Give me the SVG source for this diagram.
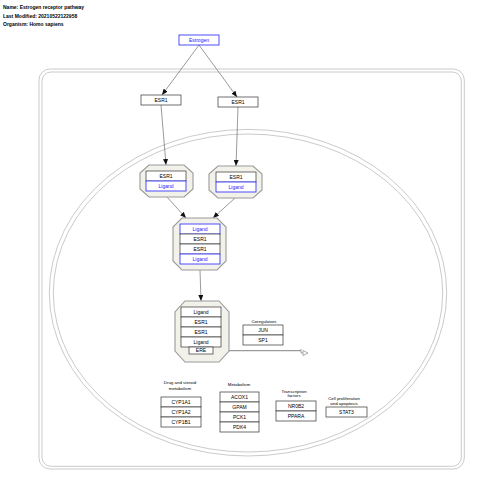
<svg xmlns="http://www.w3.org/2000/svg" width="480" height="485" viewBox="0 0 480 485">
<style>
text{font-family:"Liberation Sans",Arial,sans-serif;fill:#000;}
.hdr{font-size:5px;font-weight:bold;}
.lbl{font-size:4.4px;text-anchor:middle;}
.bt{font-size:5px;text-anchor:middle;}
.bl{fill:#1a1aff;}
.box{fill:#fff;stroke:#333;stroke-width:0.7;}
.bbox{fill:#fff;stroke:#3a3aff;stroke-width:0.9;}
.cx{fill:#f3f2ea;stroke:#9a9a9a;stroke-width:1.1;}
.shell{fill:none;stroke:#bdbdbd;stroke-width:0.8;}
.edge{stroke:#555;stroke-width:0.6;fill:none;}
</style>
<defs>
<marker id="arr" markerUnits="userSpaceOnUse" markerWidth="6" markerHeight="5" refX="6" refY="2.5" orient="auto">
<path d="M0,0 L6,2.5 L0,5 z" fill="#111"/>
</marker>
</defs>
<rect width="480" height="485" fill="#fff"/>
<g id="header">
<text class="hdr" x="3" y="8.5">Name: Estrogen receptor pathway</text>
<text class="hdr" x="3" y="17.5">Last Modified: 20210522122958</text>
<text class="hdr" x="3" y="26">Organism: Homo sapiens</text>
</g>
<g id="cell">
<rect class="shell" x="39" y="69" width="425.3" height="400" rx="11"/>
<rect class="shell" x="42" y="72" width="419.3" height="394.3" rx="9"/>
</g>
<g id="nucleus">
<ellipse class="shell" cx="248" cy="292.7" rx="198.7" ry="163.3"/>
<ellipse class="shell" cx="248" cy="293" rx="194.7" ry="159"/>
</g>
<g id="connectors">
<line class="edge" x1="199" y1="45" x2="162" y2="95" marker-end="url(#arr)"/>
<line class="edge" x1="199" y1="45" x2="237" y2="97" marker-end="url(#arr)"/>
<line class="edge" x1="161" y1="105" x2="166" y2="165" marker-end="url(#arr)"/>
<line class="edge" x1="238" y1="107" x2="236" y2="166" marker-end="url(#arr)"/>
<line class="edge" x1="167" y1="197" x2="186" y2="218" marker-end="url(#arr)"/>
<line class="edge" x1="235" y1="198" x2="213" y2="218" marker-end="url(#arr)"/>
<line class="edge" x1="200" y1="270" x2="201" y2="301" marker-end="url(#arr)"/>
<g id="ere-transcription">
<line x1="213" y1="350.6" x2="301" y2="350.6" stroke="#9a9a9a" stroke-width="1.2"/>
<path d="M301,349 V353 H303" fill="none" stroke="#777" stroke-width="0.6"/>
<polygon points="303,350.5 308,353 303,355.5" fill="#fff" stroke="#777" stroke-width="0.6"/>
</g>
</g>
<g id="estrogen">
<rect class="bbox" x="179" y="35" width="40" height="10"/>
<text class="bt bl" x="199" y="41.8">Estrogen</text>
</g>
<g id="esr1-left">
<rect class="box" x="141" y="95" width="40" height="10"/>
<text class="bt" x="161" y="101.8">ESR1</text>
</g>
<g id="esr1-right">
<rect class="box" x="218" y="97" width="40" height="10"/>
<text class="bt" x="238" y="103.8">ESR1</text>
</g>
<g id="complex-left">
<polygon class="cx" points="149,165 184,165 193,173 193,189 184,197 149,197 140,189 140,173"/>
<rect class="box" x="146" y="171" width="40" height="10"/>
<text class="bt" x="166" y="177.8">ESR1</text>
<rect class="bbox" x="146" y="181" width="40" height="10"/>
<text class="bt bl" x="166" y="187.8">Ligand</text>
</g>
<g id="complex-right">
<polygon class="cx" points="218,166 253,166 262,174 262,190 253,198 218,198 209,190 209,174"/>
<rect class="box" x="216" y="172" width="40" height="10"/>
<text class="bt" x="236" y="178.8">ESR1</text>
<rect class="bbox" x="216" y="182" width="40" height="10"/>
<text class="bt bl" x="236" y="188.8">Ligand</text>
</g>
<g id="complex-dimer">
<polygon class="cx" points="182,218 217,218 226,227 226,261 217,270 182,270 173,261 173,227"/>
<rect class="bbox" x="180" y="224" width="40" height="10"/>
<text class="bt bl" x="200" y="230.8">Ligand</text>
<rect class="box" x="180" y="234" width="40" height="10"/>
<text class="bt" x="200" y="240.8">ESR1</text>
<rect class="box" x="180" y="244" width="40" height="10"/>
<text class="bt" x="200" y="250.8">ESR1</text>
<rect class="bbox" x="180" y="254" width="40" height="10"/>
<text class="bt bl" x="200" y="260.8">Ligand</text>
</g>
<g id="complex-ere">
<polygon class="cx" points="185,301 219,301 229,312 229,351 219,362 185,362 175,351 175,312"/>
<rect class="box" x="181" y="307" width="40" height="10"/>
<text class="bt" x="201" y="313.8">Ligand</text>
<rect class="box" x="181" y="317" width="40" height="10"/>
<text class="bt" x="201" y="323.8">ESR1</text>
<rect class="box" x="181" y="327" width="40" height="10"/>
<text class="bt" x="201" y="333.8">ESR1</text>
<rect class="box" x="181" y="337" width="40" height="10"/>
<text class="bt" x="201" y="343.8">Ligand</text>
<rect class="box" x="189" y="347" width="24" height="7"/>
<text class="bt" x="201" y="352.3">ERE</text>
</g>
<g id="coregulators">
<text class="lbl" x="264" y="322.5">Coregulators</text>
<rect class="box" x="243" y="325" width="40" height="10"/>
<text class="bt" x="263" y="331.8">JUN</text>
<rect class="box" x="243" y="335" width="40" height="10"/>
<text class="bt" x="263" y="341.8">SP1</text>
</g>
<g id="drug-steroid-metabolism">
<text class="lbl" x="180" y="384">Drug and steroid</text>
<text class="lbl" x="180" y="390">metabolism</text>
<rect class="box" x="161" y="397" width="40" height="10"/>
<text class="bt" x="181" y="403.8">CYP1A1</text>
<rect class="box" x="161" y="407" width="40" height="10"/>
<text class="bt" x="181" y="413.8">CYP1A2</text>
<rect class="box" x="161" y="417" width="40" height="10"/>
<text class="bt" x="181" y="423.8">CYP1B1</text>
</g>
<g id="metabolism">
<text class="lbl" x="239" y="385.5">Metabolism</text>
<rect class="box" x="220" y="392" width="39" height="10"/>
<text class="bt" x="239.5" y="398.8">ACOX1</text>
<rect class="box" x="220" y="402" width="39" height="10"/>
<text class="bt" x="239.5" y="408.8">GPAM</text>
<rect class="box" x="220" y="412" width="39" height="10"/>
<text class="bt" x="239.5" y="418.8">PCK1</text>
<rect class="box" x="220" y="422" width="39" height="10"/>
<text class="bt" x="239.5" y="428.8">PDK4</text>
</g>
<g id="transcription-factors">
<text class="lbl" x="294" y="392.5">Transcription</text>
<text class="lbl" x="294" y="397.3">factors</text>
<rect class="box" x="276" y="401" width="40" height="10"/>
<text class="bt" x="296" y="407.8">NR0B2</text>
<rect class="box" x="276" y="411" width="40" height="10"/>
<text class="bt" x="296" y="417.8">PPARA</text>
</g>
<g id="cell-proliferation">
<text class="lbl" x="344" y="399.5">Cell proliferation</text>
<text class="lbl" x="344" y="405.2">and apoptosis</text>
<rect class="box" x="326" y="407" width="41" height="10"/>
<text class="bt" x="346.5" y="413.8">STAT3</text>
</g>
</svg>
